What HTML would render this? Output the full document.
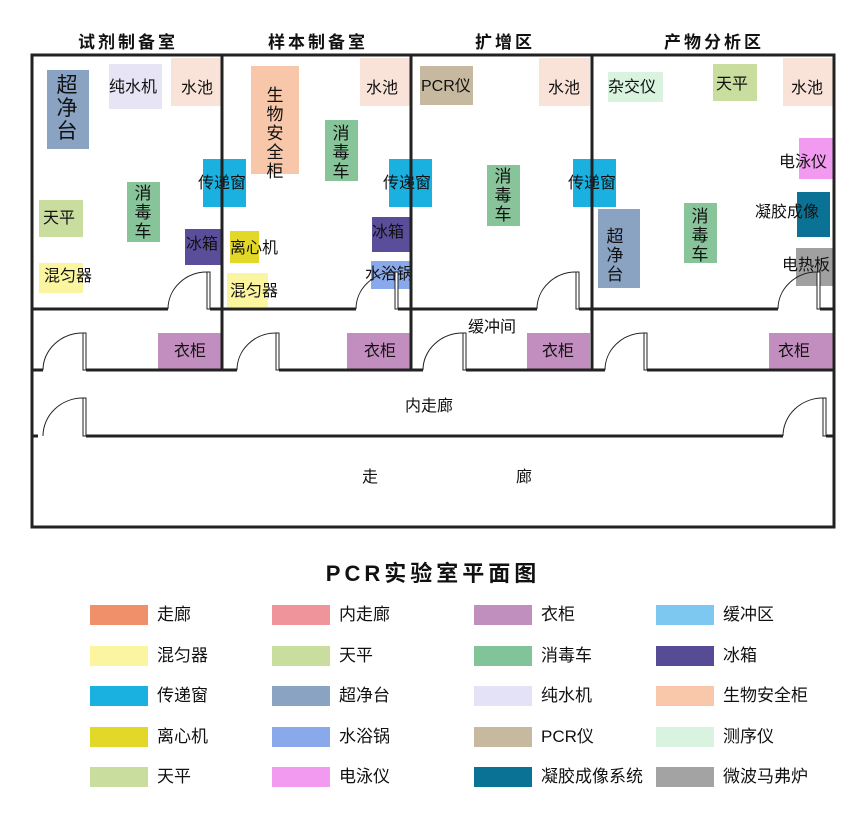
<!DOCTYPE html>
<html><head><meta charset="utf-8"><style>
body{margin:0;background:#fff;width:866px;height:813px;position:relative;overflow:hidden;font-family:"Liberation Sans","Noto Sans CJK SC",sans-serif;color:#111}
.b{position:absolute}
.t{position:absolute;font-size:16px;line-height:18px;white-space:nowrap}
.v{position:absolute;font-size:17px;line-height:19px;width:20px;text-align:center}
.h{position:absolute;top:28px;font-size:17px;font-weight:bold;letter-spacing:3px;transform:translateX(-50%);white-space:nowrap}
.s{position:absolute;width:58px;height:20px}
.l{position:absolute;font-size:17px;line-height:20px;white-space:nowrap}
</style></head><body>
<div class="h" style="left:128px">试剂制备室</div>
<div class="h" style="left:318px">样本制备室</div>
<div class="h" style="left:505px">扩增区</div>
<div class="h" style="left:714px">产物分析区</div>

<!-- furniture -->
<div class="b" style="left:47px;top:70px;width:42px;height:79px;background:#8aa3c2"></div>
<div class="v" style="left:55px;top:74px;font-size:21px;line-height:23px;width:24px">超净台</div>
<div class="b" style="left:109px;top:64px;width:53px;height:45px;background:#e6e4f5"></div><div class="t" style="left:109px;top:79px">纯水机</div>
<div class="b" style="left:171px;top:58px;width:51px;height:48px;background:#f9e3d8"></div><div class="t" style="left:181px;top:80px">水池</div>
<div class="b" style="left:203px;top:159px;width:43px;height:48px;background:#1ab0e0"></div>
<div class="b" style="left:127px;top:182px;width:33px;height:60px;background:#88c49a"></div><div class="v" style="left:133px;top:184px">消毒车</div>
<div class="b" style="left:39px;top:200px;width:44px;height:37px;background:#c9dd9e"></div><div class="t" style="left:43px;top:210px">天平</div>
<div class="b" style="left:185px;top:229px;width:37px;height:36px;background:#5a4d9a"></div>
<div class="b" style="left:39px;top:263px;width:44px;height:30px;background:#fbf5a0"></div><div class="t" style="left:44px;top:268px">混匀器</div>

<div class="b" style="left:251px;top:66px;width:48px;height:108px;background:#f8c6a8"></div><div class="v" style="left:265px;top:86px">生物安全柜</div>
<div class="b" style="left:325px;top:120px;width:33px;height:61px;background:#88c49a"></div><div class="v" style="left:331px;top:124px">消毒车</div>
<div class="b" style="left:360px;top:58px;width:50px;height:48px;background:#f9e3d8"></div><div class="t" style="left:366px;top:80px">水池</div>
<div class="b" style="left:389px;top:159px;width:43px;height:48px;background:#1ab0e0"></div>
<div class="b" style="left:372px;top:217px;width:39px;height:35px;background:#5a4d9a"></div>
<div class="b" style="left:230px;top:231px;width:29px;height:32px;background:#e3d827"></div><div class="t" style="left:230px;top:240px">离心机</div>
<div class="b" style="left:371px;top:261px;width:40px;height:28px;background:#8aa9ea"></div>
<div class="b" style="left:227px;top:273px;width:41px;height:34px;background:#fbf5a0"></div><div class="t" style="left:230px;top:283px">混匀器</div>

<div class="b" style="left:420px;top:66px;width:53px;height:39px;background:#c7b9a0"></div><div class="t" style="left:421px;top:78px">PCR仪</div>
<div class="b" style="left:539px;top:58px;width:51px;height:48px;background:#f9e3d8"></div><div class="t" style="left:548px;top:80px">水池</div>
<div class="b" style="left:487px;top:165px;width:33px;height:61px;background:#88c49a"></div><div class="v" style="left:493px;top:167px">消毒车</div>
<div class="b" style="left:573px;top:159px;width:43px;height:48px;background:#1ab0e0"></div>

<div class="b" style="left:608px;top:72px;width:55px;height:30px;background:#d9f3df"></div><div class="t" style="left:608px;top:79px">杂交仪</div>
<div class="b" style="left:713px;top:64px;width:44px;height:37px;background:#c9dd9e"></div><div class="t" style="left:716px;top:76px">天平</div>
<div class="b" style="left:783px;top:58px;width:50px;height:48px;background:#f9e3d8"></div><div class="t" style="left:791px;top:80px">水池</div>
<div class="b" style="left:799px;top:138px;width:34px;height:41px;background:#f19af0"></div><div class="t" style="left:779px;top:154px">电泳仪</div>
<div class="b" style="left:797px;top:192px;width:33px;height:45px;background:#0a7395"></div><div class="t" style="left:755px;top:204px">凝胶成像</div>
<div class="b" style="left:796px;top:248px;width:37px;height:38px;background:#a0a0a0"></div><div class="t" style="left:782px;top:257px">电热板</div>
<div class="b" style="left:598px;top:209px;width:42px;height:79px;background:#8aa3c2"></div><div class="v" style="left:605px;top:227px">超净台</div>
<div class="b" style="left:684px;top:203px;width:33px;height:60px;background:#88c49a"></div><div class="v" style="left:690px;top:207px">消毒车</div>

<div class="b" style="left:158px;top:333px;width:64px;height:36px;background:#c28ebf"></div><div class="t" style="left:174px;top:343px">衣柜</div>
<div class="b" style="left:347px;top:333px;width:64px;height:36px;background:#c28ebf"></div><div class="t" style="left:364px;top:343px">衣柜</div>
<div class="b" style="left:527px;top:333px;width:63px;height:36px;background:#c28ebf"></div><div class="t" style="left:542px;top:343px">衣柜</div>
<div class="b" style="left:769px;top:333px;width:64px;height:36px;background:#c28ebf"></div><div class="t" style="left:778px;top:343px">衣柜</div>

<!-- labels over -->
<div class="t" style="left:198px;top:175px">传递窗</div>
<div class="t" style="left:383px;top:175px">传递窗</div>
<div class="t" style="left:568px;top:175px">传递窗</div>
<div class="t" style="left:186px;top:236px">冰箱</div>
<div class="t" style="left:372px;top:224px">冰箱</div>
<div class="t" style="left:365px;top:266px">水浴锅</div>
<div class="t" style="left:468px;top:319px">缓冲间</div>
<div class="t" style="left:405px;top:398px">内走廊</div>
<div class="t" style="left:362px;top:469px">走</div>
<div class="t" style="left:516px;top:469px">廊</div>

<svg class="b" style="left:0;top:0" width="866" height="813">
<g stroke="#222" stroke-width="3" fill="none">
<rect x="32" y="55" width="802" height="472"/>
<line x1="222" y1="55" x2="222" y2="370"/>
<line x1="411" y1="55" x2="411" y2="370"/>
<line x1="592" y1="55" x2="592" y2="370"/>
<path d="M32 309H168M210 309H356M398 309H537M579 309H778M820 309H834"/>
<path d="M32 370H43M86 370H237M279 370H423M466 370H605M647 370H834"/>
<path d="M32 436H38M86 436H783M826 436H834"/>
</g>
<g stroke="#222" stroke-width="1" fill="#fff">
<rect x="207" y="272" width="3" height="37"/><rect x="395" y="272" width="3" height="37"/>
<rect x="576" y="272" width="3" height="37"/><rect x="817" y="272" width="3" height="37"/>
<rect x="83" y="333" width="3" height="37"/><rect x="276" y="333" width="3" height="37"/>
<rect x="463" y="333" width="3" height="37"/><rect x="644" y="333" width="3" height="37"/>
<rect x="83" y="398" width="3" height="38"/><rect x="823" y="398" width="3" height="38"/>
</g>
<g stroke="#222" stroke-width="1" fill="none">
<path d="M168 309A39 37 0 0 1 207 272"/><path d="M356 309A39 37 0 0 1 395 272"/>
<path d="M537 309A39 37 0 0 1 576 272"/><path d="M778 309A39 37 0 0 1 817 272"/>
<path d="M43 370A40 37 0 0 1 83 333"/><path d="M237 370A39 37 0 0 1 276 333"/>
<path d="M423 370A40 37 0 0 1 463 333"/><path d="M605 370A39 37 0 0 1 644 333"/>
<path d="M43 436A40 38 0 0 1 83 398"/><path d="M783 436A40 38 0 0 1 823 398"/>
</g>
</svg>

<div class="b" style="left:0;width:866px;top:556px;text-align:center;font-size:22px;font-weight:bold;letter-spacing:4px">PCR实验室平面图</div>

<div class="s" style="left:90px;top:605px;background:#f0906a"></div><div class="l" style="left:157px;top:605px">走廊</div>
<div class="s" style="left:272px;top:605px;background:#ef949b"></div><div class="l" style="left:339px;top:605px">内走廊</div>
<div class="s" style="left:474px;top:605px;background:#c08fbe"></div><div class="l" style="left:541px;top:605px">衣柜</div>
<div class="s" style="left:656px;top:605px;background:#7cc8f0"></div><div class="l" style="left:723px;top:605px">缓冲区</div>

<div class="s" style="left:90px;top:646px;background:#fbf5a0"></div><div class="l" style="left:157px;top:646px">混匀器</div>
<div class="s" style="left:272px;top:646px;background:#c9dd9e"></div><div class="l" style="left:339px;top:646px">天平</div>
<div class="s" style="left:474px;top:646px;background:#82c49a"></div><div class="l" style="left:541px;top:646px">消毒车</div>
<div class="s" style="left:656px;top:646px;background:#564c96"></div><div class="l" style="left:723px;top:646px">冰箱</div>

<div class="s" style="left:90px;top:686px;background:#1ab0e0"></div><div class="l" style="left:157px;top:686px">传递窗</div>
<div class="s" style="left:272px;top:686px;background:#8aa3c2"></div><div class="l" style="left:339px;top:686px">超净台</div>
<div class="s" style="left:474px;top:686px;background:#e4e2f6"></div><div class="l" style="left:541px;top:686px">纯水机</div>
<div class="s" style="left:656px;top:686px;background:#f9c8aa"></div><div class="l" style="left:723px;top:686px">生物安全柜</div>

<div class="s" style="left:90px;top:727px;background:#e3d827"></div><div class="l" style="left:157px;top:727px">离心机</div>
<div class="s" style="left:272px;top:727px;background:#8aa9ea"></div><div class="l" style="left:339px;top:727px">水浴锅</div>
<div class="s" style="left:474px;top:727px;background:#c7b9a0"></div><div class="l" style="left:541px;top:727px">PCR仪</div>
<div class="s" style="left:656px;top:727px;background:#d8f3df"></div><div class="l" style="left:723px;top:727px">测序仪</div>

<div class="s" style="left:90px;top:767px;background:#c9dd9e"></div><div class="l" style="left:157px;top:767px">天平</div>
<div class="s" style="left:272px;top:767px;background:#f19af0"></div><div class="l" style="left:339px;top:767px">电泳仪</div>
<div class="s" style="left:474px;top:767px;background:#0a7395"></div><div class="l" style="left:541px;top:767px">凝胶成像系统</div>
<div class="s" style="left:656px;top:767px;background:#a3a3a3"></div><div class="l" style="left:723px;top:767px">微波马弗炉</div>
</body></html>
